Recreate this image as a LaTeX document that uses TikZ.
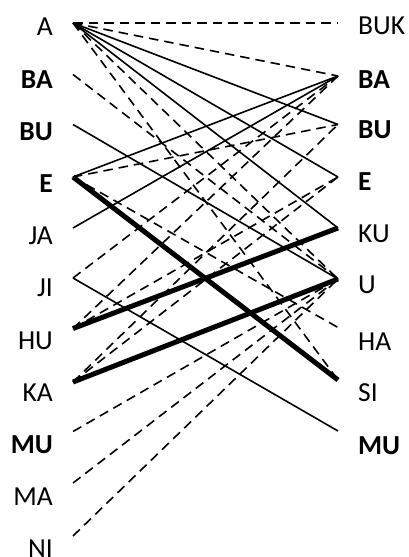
\documentclass[tikz,border=0pt]{standalone}
\usepackage{fontspec}
\setmainfont{Carlito}
\begin{document}
\begin{tikzpicture}[x=1pt,y=1pt,
  lab/.style={inner sep=0pt, font=\fontsize{27.5}{30}\selectfont},
  lefttxt/.style={lab, anchor=base east},
  righttxt/.style={lab, anchor=base west},
  solidcon/.style={line width=1.6pt},
  dashcon/.style={line width=1.6pt, dash pattern=on 9.5pt off 6pt},
  thickcon/.style={line width=5pt}]
\useasboundingbox (0,0) rectangle (409,557);
% left labels
\node[lefttxt] (tA)  at (53,521)   {A};
\node[lefttxt] (tBA) at (53,468.8) {\bfseries BA};
\node[lefttxt] (tBU) at (53,416.6) {\bfseries BU};
\node[lefttxt] (tE)  at (53,364.4) {\bfseries E};
\node[lefttxt] (tJA) at (53,312.2) {JA};
\node[lefttxt] (tJI) at (53,260)   {JI};
\node[lefttxt] (tHU) at (53,207.8) {HU};
\node[lefttxt] (tKA) at (53,155.6) {KA};
\node[lefttxt] (tMU) at (53,103.4) {\bfseries MU};
\node[lefttxt] (tMA) at (53,51.2)  {MA};
\node[lefttxt] (tNI) at (53,-1)    {NI};
% right labels
\node[righttxt] (uBUK) at (358,522)   {BUK};
\node[righttxt] (uBA)  at (358,468.5) {\bfseries BA};
\node[righttxt] (uBU)  at (358,418)   {\bfseries BU};
\node[righttxt] (uE)   at (358,366.5) {\bfseries E};
\node[righttxt] (uKU)  at (358,314)   {KU};
\node[righttxt] (uU)   at (358,263.5) {U};
\node[righttxt] (uHA)  at (358,206)   {HA};
\node[righttxt] (uSI)  at (358,155)   {SI};
\node[righttxt] (uMU)  at (358,102)   {\bfseries MU};
% left anchor points
\coordinate (pA)  at (73,534);
\coordinate (pBA) at (73,482.5);
\coordinate (pBU) at (73,432.5);
\coordinate (pE)  at (73,380);
\coordinate (pJA) at (73,329);
\coordinate (pJI) at (73,279);
\coordinate (pHU) at (73,228.5);
\coordinate (pKA) at (73,175);
\coordinate (pMU) at (73,125.5);
\coordinate (pMA) at (73,74);
\coordinate (pNI) at (73,21);
% right anchor points
\coordinate (qBUK) at (338,534);
\coordinate (qBA)  at (338,481);
\coordinate (qBU)  at (338,432.5);
\coordinate (qE)   at (338,380);
\coordinate (qKU)  at (338,329);
\coordinate (qU)   at (338,278);
\coordinate (qHA)  at (338,229.5);
\coordinate (qSI)  at (338,177);
\coordinate (qMU)  at (338,126);
% dashed connectors
\draw[dashcon] (pA) -- (qBUK);
\draw[dashcon] (pA) -- (qBA);
\draw[dashcon] (pA) -- (qU);
\draw[dashcon] (pA) -- (qSI);
\draw[dashcon] (pBA) -- (qU);
\draw[dashcon] (pE) -- (qBU);
\draw[dashcon] (pE) -- (qHA);
\draw[dashcon] (pJI) -- (qBA);
\draw[dashcon] (pHU) -- (qBA);
\draw[dashcon] (pHU) -- (qE);
\draw[dashcon] (pKA) -- (qBU);
\draw[dashcon] (pKA) -- (qE);
\draw[dashcon] (pMU) -- (qU);
\draw[dashcon] (pMA) -- (qU);
\draw[dashcon] (pNI) -- (qU);
% solid connectors
\draw[solidcon] (pA) -- (qBU);
\draw[solidcon] (pA) -- (qE);
\draw[solidcon] (pA) -- (qKU);
\draw[solidcon] (pBU) -- (qU);
\draw[solidcon] (pE) -- (qBA);
\draw[solidcon] (pJA) -- (qBA);
\draw[solidcon] (pJI) -- (qMU);
% thick connectors
\draw[thickcon] (pE) -- (qSI);
\draw[thickcon] (pHU) -- (qKU);
\draw[thickcon] (pKA) -- (qU);
\end{tikzpicture}
\end{document}
